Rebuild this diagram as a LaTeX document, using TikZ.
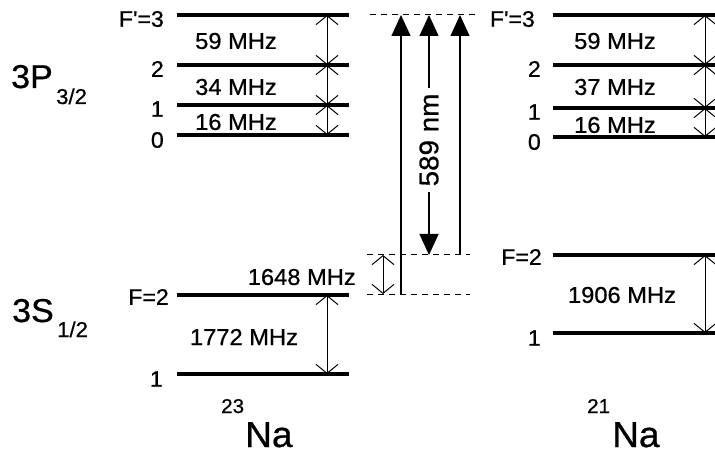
\documentclass[tikz,border=0pt]{standalone}
\usepackage{fontspec}
\usetikzlibrary{arrows.meta}
\newfontfamily\labfont[FakeStretch=1.03,FakeBold=0.7]{Liberation Sans}
\begin{document}
\begin{tikzpicture}[x=1pt,y=-1pt,
  level/.style={line width=4.3pt},
  gap/.style={line width=1pt,{Straight Barb[length=9pt,width=22pt,line width=1pt]}-{Straight Barb[length=9pt,width=22pt,line width=1pt]}},
  photon/.style={line width=1.3pt,-{Triangle[length=21pt,width=19pt]}},
  guide/.style={line width=1pt,dash pattern=on 6pt off 5pt},
  lbl/.style={font=\labfont\fontsize{22.5}{26}\selectfont,inner sep=0pt},
  mhz/.style={font=\labfont\fontsize{23}{26}\selectfont,inner sep=0pt},
  term/.style={font=\labfont\fontsize{33}{36}\selectfont,inner sep=0pt,anchor=base west},
  termsub/.style={font=\labfont\fontsize{21.5}{24}\selectfont,inner sep=0pt,anchor=base west},
  iso/.style={font=\labfont\fontsize{36}{40}\selectfont,inner sep=0pt,anchor=base west},
  isomass/.style={font=\labfont\fontsize{20}{22}\selectfont,inner sep=0pt,anchor=base west}]
\useasboundingbox (0,0) rectangle (715,457);

% ---- 23Na levels
\foreach \n/\y in {a3/15,a2/65,a1/105,a0/135,aF2/295,aF1/374}{
  \coordinate (\n l) at (177,\y);
  \coordinate (\n r) at (349,\y);
  \coordinate (\n x) at (327,\y);
  \draw[level] (\n l) -- (\n r);
}
\draw[gap] (a3x) -- (a2x);
\draw[gap] (a2x) -- (a1x);
\draw[gap] (a1x) -- (a0x);
\draw[gap] (aF2x) -- (aF1x);

\node[lbl,anchor=east] (la3) at (164,19) {F\textquotesingle=3};
\node[lbl,anchor=east] (la2) at (164,69) {2};
\node[lbl,anchor=east] (la1) at (164,109) {1};
\node[lbl,anchor=east] (la0) at (164,140) {0};
\node[lbl,anchor=east] (laF2) at (169,297) {F=2};
\node[lbl,anchor=east] (laF1) at (163,379) {1};
\node[mhz] (m59a) at (236,41) {59 MHz};
\node[mhz] (m34) at (236,87) {34 MHz};
\node[mhz] (m16a) at (236,122) {16 MHz};
\node[mhz] (m1772) at (244,337) {1772 MHz};

% ---- 21Na levels
\foreach \n/\y in {b3/15,b2/65,b1/108,b0/137,bF2/255,bF1/333}{
  \coordinate (\n l) at (553,\y);
  \coordinate (\n r) at (715,\y);
  \coordinate (\n x) at (705,\y);
  \draw[level] (\n l) -- (\n r);
}
\draw[gap] (b3x) -- (b2x);
\draw[gap] (b2x) -- (b1x);
\draw[gap] (b1x) -- (b0x);
\draw[gap] (bF2x) -- (bF1x);

\node[lbl,anchor=east] (lb3) at (535,19) {F\textquotesingle=3};
\node[lbl,anchor=east] (lb2) at (541,69) {2};
\node[lbl,anchor=east] (lb1) at (541,112) {1};
\node[lbl,anchor=east] (lb0) at (541,142) {0};
\node[lbl,anchor=east] (lbF2) at (542,257) {F=2};
\node[lbl,anchor=east] (lbF1) at (541,338) {1};
\node[mhz] (m59b) at (615,41) {59 MHz};
\node[mhz] (m37) at (615,87) {37 MHz};
\node[mhz] (m16b) at (615,125) {16 MHz};
\node[mhz] (m1906) at (622,295) {1906 MHz};

% ---- middle: dashed guides and transitions
\coordinate (dt1) at (370,15);  \coordinate (dt2) at (477,15);
\coordinate (du1) at (367,255); \coordinate (du2) at (470,255);
\coordinate (dl1) at (367,294); \coordinate (dl2) at (470,294);
\draw[guide] (dt1) -- (dt2);
\draw[guide] (du1) -- (du2);
\draw[guide] (dl1) -- (dl2);

\coordinate (iu) at (383,255); \coordinate (il) at (383,294);
\draw[gap] (iu) -- (il);
\node[mhz,anchor=east] (m1648) at (356,277) {1648 MHz};

\coordinate (p1b) at (401,294); \coordinate (p1t) at (401,15);
\coordinate (p2b) at (429,255); \coordinate (p2t) at (429,15);
\coordinate (p3b) at (460,255); \coordinate (p3t) at (460,15);
\draw[photon] (p1b) -- (p1t);
\draw[photon] (p3b) -- (p3t);
\node[mhz,font=\labfont\fontsize{27}{30}\selectfont,rotate=90,outer sep=6pt] (nm) at (429,140) {589 nm};
\draw[photon] (nm.east) -- (p2t);
\draw[photon] (nm.west) -- (p2b);

% ---- term symbols and isotope labels
\node[term] (t3p) at (11,88) {3P};
\node[termsub] (t3ps) at (56,104) {3/2};
\node[term] (t3s) at (12,322) {3S};
\node[termsub] (t3ss) at (57,337) {1/2};
\node[iso] (na23) at (245,447) {Na};
\node[isomass] (na23m) at (221,413) {23};
\node[iso] (na21) at (612,447) {Na};
\node[isomass] (na21m) at (587,413) {21};
\end{tikzpicture}
\end{document}
